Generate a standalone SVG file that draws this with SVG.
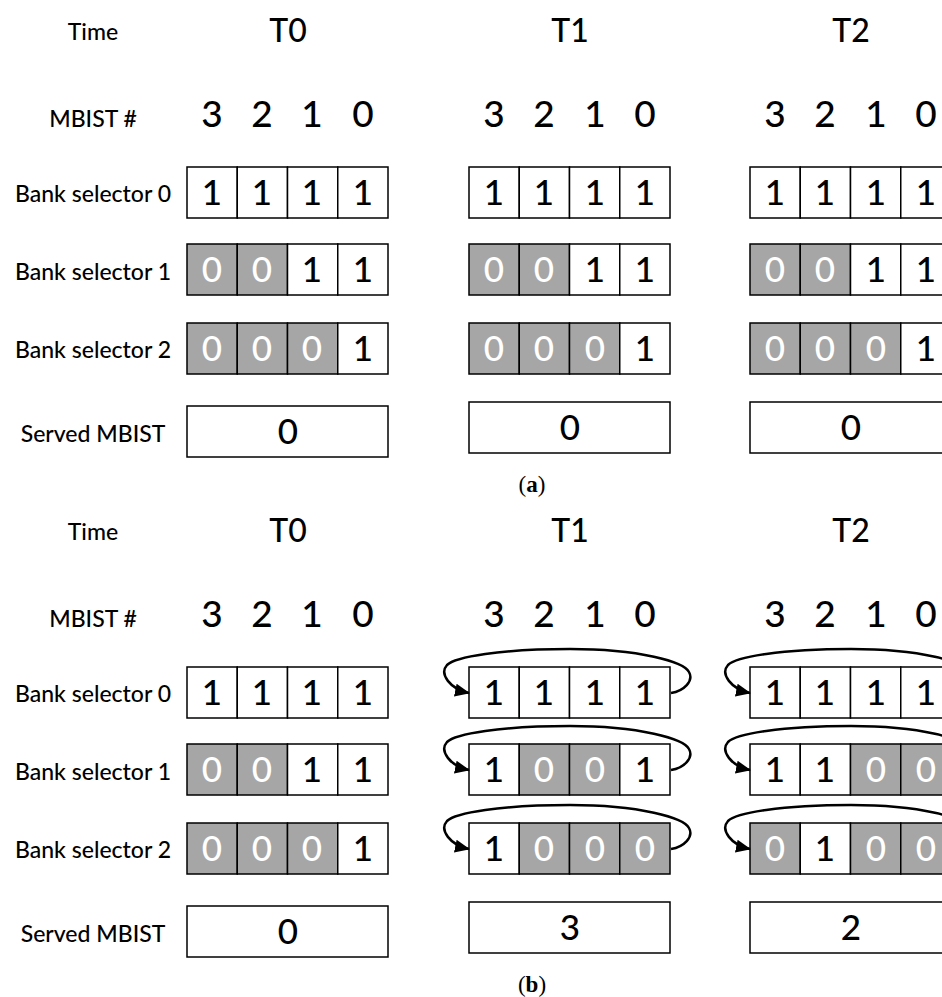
<svg xmlns="http://www.w3.org/2000/svg" width="942" height="997" viewBox="0 0 942 997">
<style>
text{font-family:Lato,"Open Sans","DejaVu Sans",sans-serif;font-weight:500;text-anchor:middle;fill:#000}
.lbl{font-size:23px}
.hdr{font-size:32px}
.num{font-size:37px}
.d{font-size:35px}
.w{fill:#fff}
.cap{font-family:"Liberation Serif",serif;font-size:23px;font-weight:normal}
.c{stroke:#000;stroke-width:1.5;fill:#fff}
.g{stroke:#000;stroke-width:1.5;fill:#a6a6a6}
.arc{fill:none;stroke:#000;stroke-width:2.5}
</style>
<defs>
<marker id="ah" markerUnits="userSpaceOnUse" markerWidth="15" markerHeight="13" refX="14" refY="6.5" orient="auto">
<path d="M0,0 L15,6.5 L0,13 z" fill="#000"/>
</marker>
</defs>
<rect width="942" height="997" fill="#fff"/>

<!-- ===== (a) ===== -->
<g id="a-labels">
<text class="lbl" x="93" y="40">Time</text>
<text class="lbl" x="93" y="127">MBIST #</text>
<text class="lbl" x="93" y="202">Bank selector 0</text>
<text class="lbl" x="93" y="280">Bank selector 1</text>
<text class="lbl" x="93" y="358">Bank selector 2</text>
<text class="lbl" x="93" y="442">Served MBIST</text>
</g>
<g id="a-headers">
<text class="hdr" x="288" y="42">T0</text>
<text class="hdr" x="570" y="42">T1</text>
<text class="hdr" x="851" y="42">T2</text>
<text class="num" x="212" y="127">3</text><text class="num" x="262" y="127">2</text><text class="num" x="312" y="127">1</text><text class="num" x="363" y="127">0</text>
<text class="num" x="494" y="127">3</text><text class="num" x="544" y="127">2</text><text class="num" x="595" y="127">1</text><text class="num" x="645" y="127">0</text>
<text class="num" x="775" y="127">3</text><text class="num" x="825" y="127">2</text><text class="num" x="876" y="127">1</text><text class="num" x="926" y="127">0</text>
</g>

<g id="a-T0-bs0">
<rect class="c" x="187" y="167" width="50.25" height="51"/><rect class="c" x="237.25" y="167" width="50.25" height="51"/><rect class="c" x="287.5" y="167" width="50.25" height="51"/><rect class="c" x="337.75" y="167" width="50.25" height="51"/>
<text class="d" x="212" y="205">1</text><text class="d" x="262" y="205">1</text><text class="d" x="312" y="205">1</text><text class="d" x="363" y="205">1</text>
</g>
<g id="a-T0-bs1">
<rect class="g" x="187" y="244" width="50.25" height="51"/><rect class="g" x="237.25" y="244" width="50.25" height="51"/><rect class="c" x="287.5" y="244" width="50.25" height="51"/><rect class="c" x="337.75" y="244" width="50.25" height="51"/>
<text class="d w" x="212" y="282">0</text><text class="d w" x="262" y="282">0</text><text class="d" x="312" y="282">1</text><text class="d" x="363" y="282">1</text>
</g>
<g id="a-T0-bs2">
<rect class="g" x="187" y="323" width="50.25" height="51"/><rect class="g" x="237.25" y="323" width="50.25" height="51"/><rect class="g" x="287.5" y="323" width="50.25" height="51"/><rect class="c" x="337.75" y="323" width="50.25" height="51"/>
<text class="d w" x="212" y="361">0</text><text class="d w" x="262" y="361">0</text><text class="d w" x="312" y="361">0</text><text class="d" x="363" y="361">1</text>
</g>
<g id="a-T0-served">
<rect class="c" x="187" y="406" width="201" height="51"/>
<text class="d" x="288" y="444">0</text>
</g>

<g id="a-T1-bs0">
<rect class="c" x="469" y="167" width="50.25" height="51"/><rect class="c" x="519.25" y="167" width="50.25" height="51"/><rect class="c" x="569.5" y="167" width="50.25" height="51"/><rect class="c" x="619.75" y="167" width="50.25" height="51"/>
<text class="d" x="494" y="205">1</text><text class="d" x="544" y="205">1</text><text class="d" x="595" y="205">1</text><text class="d" x="645" y="205">1</text>
</g>
<g id="a-T1-bs1">
<rect class="g" x="469" y="244" width="50.25" height="51"/><rect class="g" x="519.25" y="244" width="50.25" height="51"/><rect class="c" x="569.5" y="244" width="50.25" height="51"/><rect class="c" x="619.75" y="244" width="50.25" height="51"/>
<text class="d w" x="494" y="282">0</text><text class="d w" x="544" y="282">0</text><text class="d" x="595" y="282">1</text><text class="d" x="645" y="282">1</text>
</g>
<g id="a-T1-bs2">
<rect class="g" x="469" y="323" width="50.25" height="51"/><rect class="g" x="519.25" y="323" width="50.25" height="51"/><rect class="g" x="569.5" y="323" width="50.25" height="51"/><rect class="c" x="619.75" y="323" width="50.25" height="51"/>
<text class="d w" x="494" y="361">0</text><text class="d w" x="544" y="361">0</text><text class="d w" x="595" y="361">0</text><text class="d" x="645" y="361">1</text>
</g>
<g id="a-T1-served">
<rect class="c" x="469" y="402" width="201" height="51"/>
<text class="d" x="570" y="440">0</text>
</g>

<g id="a-T2-bs0">
<rect class="c" x="750" y="167" width="50.25" height="51"/><rect class="c" x="800.25" y="167" width="50.25" height="51"/><rect class="c" x="850.5" y="167" width="50.25" height="51"/><rect class="c" x="900.75" y="167" width="50.25" height="51"/>
<text class="d" x="775" y="205">1</text><text class="d" x="825" y="205">1</text><text class="d" x="876" y="205">1</text><text class="d" x="926" y="205">1</text>
</g>
<g id="a-T2-bs1">
<rect class="g" x="750" y="244" width="50.25" height="51"/><rect class="g" x="800.25" y="244" width="50.25" height="51"/><rect class="c" x="850.5" y="244" width="50.25" height="51"/><rect class="c" x="900.75" y="244" width="50.25" height="51"/>
<text class="d w" x="775" y="282">0</text><text class="d w" x="825" y="282">0</text><text class="d" x="876" y="282">1</text><text class="d" x="926" y="282">1</text>
</g>
<g id="a-T2-bs2">
<rect class="g" x="750" y="323" width="50.25" height="51"/><rect class="g" x="800.25" y="323" width="50.25" height="51"/><rect class="g" x="850.5" y="323" width="50.25" height="51"/><rect class="c" x="900.75" y="323" width="50.25" height="51"/>
<text class="d w" x="775" y="361">0</text><text class="d w" x="825" y="361">0</text><text class="d w" x="876" y="361">0</text><text class="d" x="926" y="361">1</text>
</g>
<g id="a-T2-served">
<rect class="c" x="750" y="402" width="201" height="51"/>
<text class="d" x="851" y="440">0</text>
</g>
<text class="cap" x="532" y="492">(<tspan font-weight="bold">a</tspan>)</text>

<!-- ===== (b) ===== -->
<g id="b-labels">
<text class="lbl" x="93" y="540">Time</text>
<text class="lbl" x="93" y="627">MBIST #</text>
<text class="lbl" x="93" y="702">Bank selector 0</text>
<text class="lbl" x="93" y="780">Bank selector 1</text>
<text class="lbl" x="93" y="858">Bank selector 2</text>
<text class="lbl" x="93" y="942">Served MBIST</text>
</g>
<g id="b-headers">
<text class="hdr" x="288" y="542">T0</text>
<text class="hdr" x="570" y="542">T1</text>
<text class="hdr" x="851" y="542">T2</text>
<text class="num" x="212" y="627">3</text><text class="num" x="262" y="627">2</text><text class="num" x="312" y="627">1</text><text class="num" x="363" y="627">0</text>
<text class="num" x="494" y="627">3</text><text class="num" x="544" y="627">2</text><text class="num" x="595" y="627">1</text><text class="num" x="645" y="627">0</text>
<text class="num" x="775" y="627">3</text><text class="num" x="825" y="627">2</text><text class="num" x="876" y="627">1</text><text class="num" x="926" y="627">0</text>
</g>

<g id="b-T0-bs0">
<rect class="c" x="187" y="667" width="50.25" height="51"/><rect class="c" x="237.25" y="667" width="50.25" height="51"/><rect class="c" x="287.5" y="667" width="50.25" height="51"/><rect class="c" x="337.75" y="667" width="50.25" height="51"/>
<text class="d" x="212" y="705">1</text><text class="d" x="262" y="705">1</text><text class="d" x="312" y="705">1</text><text class="d" x="363" y="705">1</text>
</g>
<g id="b-T0-bs1">
<rect class="g" x="187" y="744" width="50.25" height="51"/><rect class="g" x="237.25" y="744" width="50.25" height="51"/><rect class="c" x="287.5" y="744" width="50.25" height="51"/><rect class="c" x="337.75" y="744" width="50.25" height="51"/>
<text class="d w" x="212" y="782">0</text><text class="d w" x="262" y="782">0</text><text class="d" x="312" y="782">1</text><text class="d" x="363" y="782">1</text>
</g>
<g id="b-T0-bs2">
<rect class="g" x="187" y="823" width="50.25" height="51"/><rect class="g" x="237.25" y="823" width="50.25" height="51"/><rect class="g" x="287.5" y="823" width="50.25" height="51"/><rect class="c" x="337.75" y="823" width="50.25" height="51"/>
<text class="d w" x="212" y="861">0</text><text class="d w" x="262" y="861">0</text><text class="d w" x="312" y="861">0</text><text class="d" x="363" y="861">1</text>
</g>
<g id="b-T0-served">
<rect class="c" x="187" y="906" width="201" height="51"/>
<text class="d" x="288" y="944">0</text>
</g>

<g id="b-T1-bs0">
<rect class="c" x="469" y="667" width="50.25" height="51"/><rect class="c" x="519.25" y="667" width="50.25" height="51"/><rect class="c" x="569.5" y="667" width="50.25" height="51"/><rect class="c" x="619.75" y="667" width="50.25" height="51"/>
<text class="d" x="494" y="705">1</text><text class="d" x="544" y="705">1</text><text class="d" x="595" y="705">1</text><text class="d" x="645" y="705">1</text>
</g>
<g id="b-T1-bs1">
<rect class="c" x="469" y="744" width="50.25" height="51"/><rect class="g" x="519.25" y="744" width="50.25" height="51"/><rect class="g" x="569.5" y="744" width="50.25" height="51"/><rect class="c" x="619.75" y="744" width="50.25" height="51"/>
<text class="d" x="494" y="782">1</text><text class="d w" x="544" y="782">0</text><text class="d w" x="595" y="782">0</text><text class="d" x="645" y="782">1</text>
</g>
<g id="b-T1-bs2">
<rect class="c" x="469" y="823" width="50.25" height="51"/><rect class="g" x="519.25" y="823" width="50.25" height="51"/><rect class="g" x="569.5" y="823" width="50.25" height="51"/><rect class="g" x="619.75" y="823" width="50.25" height="51"/>
<text class="d" x="494" y="861">1</text><text class="d w" x="544" y="861">0</text><text class="d w" x="595" y="861">0</text><text class="d w" x="645" y="861">0</text>
</g>
<g id="b-T1-served">
<rect class="c" x="469" y="902" width="201" height="51"/>
<text class="d" x="570" y="940">3</text>
</g>

<g id="b-T2-bs0">
<rect class="c" x="750" y="667" width="50.25" height="51"/><rect class="c" x="800.25" y="667" width="50.25" height="51"/><rect class="c" x="850.5" y="667" width="50.25" height="51"/><rect class="c" x="900.75" y="667" width="50.25" height="51"/>
<text class="d" x="775" y="705">1</text><text class="d" x="825" y="705">1</text><text class="d" x="876" y="705">1</text><text class="d" x="926" y="705">1</text>
</g>
<g id="b-T2-bs1">
<rect class="c" x="750" y="744" width="50.25" height="51"/><rect class="c" x="800.25" y="744" width="50.25" height="51"/><rect class="g" x="850.5" y="744" width="50.25" height="51"/><rect class="g" x="900.75" y="744" width="50.25" height="51"/>
<text class="d" x="775" y="782">1</text><text class="d" x="825" y="782">1</text><text class="d w" x="876" y="782">0</text><text class="d w" x="926" y="782">0</text>
</g>
<g id="b-T2-bs2">
<rect class="g" x="750" y="823" width="50.25" height="51"/><rect class="c" x="800.25" y="823" width="50.25" height="51"/><rect class="g" x="850.5" y="823" width="50.25" height="51"/><rect class="g" x="900.75" y="823" width="50.25" height="51"/>
<text class="d w" x="775" y="861">0</text><text class="d" x="825" y="861">1</text><text class="d w" x="876" y="861">0</text><text class="d w" x="926" y="861">0</text>
</g>
<g id="b-T2-served">
<rect class="c" x="750" y="902" width="201" height="51"/>
<text class="d" x="851" y="940">2</text>
</g>
<text class="cap" x="532" y="992">(<tspan font-weight="bold">b</tspan>)</text>

<g id="connectors">
<path class="arc" marker-end="url(#ah)" d="M671,693 C684,691 694,681 689,672 C684,662 640,649 570,649 C500,649 455,657 447,665 C439,674 450,689 469,693"/>
<path class="arc" marker-end="url(#ah)" d="M671,770 C684,768 694,758 689,749 C684,739 640,726 570,726 C500,726 455,734 447,742 C439,751 450,766 469,770"/>
<path class="arc" marker-end="url(#ah)" d="M671,849 C684,847 694,837 689,828 C684,818 640,805 570,805 C500,805 455,813 447,821 C439,830 450,845 469,849"/>
<path class="arc" marker-end="url(#ah)" d="M952,693 C965,691 975,681 970,672 C965,662 921,649 851,649 C781,649 736,657 728,665 C720,674 731,689 750,693"/>
<path class="arc" marker-end="url(#ah)" d="M952,770 C965,768 975,758 970,749 C965,739 921,726 851,726 C781,726 736,734 728,742 C720,751 731,766 750,770"/>
<path class="arc" marker-end="url(#ah)" d="M952,849 C965,847 975,837 970,828 C965,818 921,805 851,805 C781,805 736,813 728,821 C720,830 731,845 750,849"/>
</g>
</svg>
